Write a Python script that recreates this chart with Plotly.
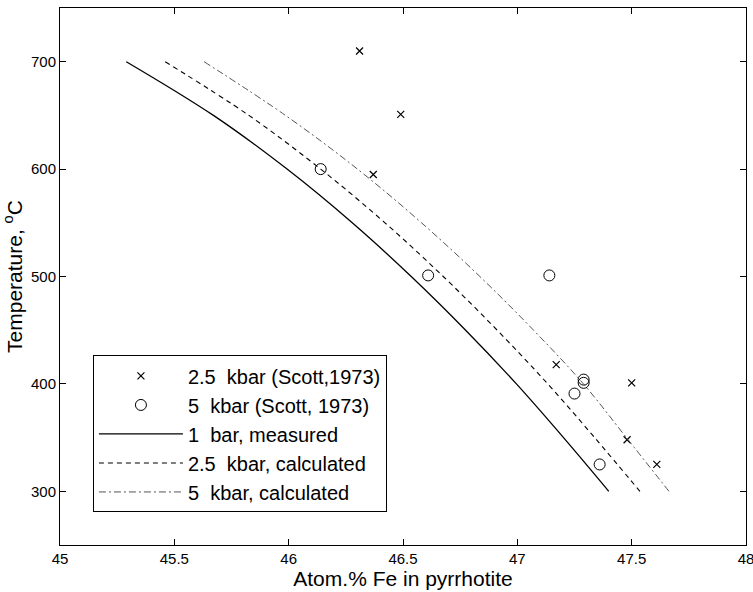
import plotly.graph_objects as go

# Data
scott_25_x = [46.31, 46.49, 46.37, 47.17, 47.50, 47.48, 47.61]
scott_25_t = [710, 651, 595, 418, 401, 348, 325]

scott_5_x = [46.14, 46.61, 47.14, 47.29, 47.29, 47.25, 47.36]
scott_5_t = [600, 501, 501, 404, 401, 391, 325]

curve_t = [700, 650, 600, 550, 500, 450, 400, 350, 300]
bar1_x = [45.290, 45.671, 45.993, 46.278, 46.536, 46.774, 46.996, 47.202, 47.400]
kbar25_x = [45.460, 45.826, 46.140, 46.421, 46.676, 46.912, 47.133, 47.338, 47.536]
kbar5_x = [45.630, 45.986, 46.301, 46.581, 46.836, 47.071, 47.289, 47.477, 47.663]

x_ticks = [45, 45.5, 46, 46.5, 47, 47.5, 48]
y_ticks = [300, 400, 500, 600, 700]

FONT = "Arial, Liberation Sans, sans-serif"

fig = go.Figure()
fig.add_trace(go.Scatter(x=scott_25_x, y=scott_25_t, mode="markers",
                         name="2.5  kbar (Scott,1973)",
                         marker=dict(symbol="x-thin", size=7, color="black",
                                     line=dict(width=1.2, color="black"))))
fig.add_trace(go.Scatter(x=scott_5_x, y=scott_5_t, mode="markers",
                         name="5  kbar (Scott, 1973)",
                         marker=dict(symbol="circle-open", size=11, color="black",
                                     line=dict(width=1, color="black"))))
fig.add_trace(go.Scatter(x=bar1_x, y=curve_t, mode="lines", line_shape="spline",
                         name="1  bar, measured",
                         line=dict(color="black", width=1.3, dash="solid")))
fig.add_trace(go.Scatter(x=kbar25_x, y=curve_t, mode="lines", line_shape="spline",
                         name="2.5  kbar, calculated",
                         line=dict(color="black", width=1.1, dash="5px,4px")))
fig.add_trace(go.Scatter(x=kbar5_x, y=curve_t, mode="lines", line_shape="spline",
                         name="5  kbar, calculated",
                         line=dict(color="#555555", width=1, dash="7px,3px,2px,3px")))

axis_common = dict(showline=True, linecolor="black", linewidth=1, mirror="ticks",
                   ticks="inside", ticklen=6, tickcolor="black", showgrid=False,
                   zeroline=False, ticklabeloverflow="allow",
                   tickfont=dict(family=FONT, size=15, color="black"))

fig.update_xaxes(range=[45, 48], tickvals=x_ticks, ticktext=[str(v) for v in x_ticks],
                 automargin=False,
                 title=dict(text="Atom.% Fe in pyrrhotite",
                            font=dict(family=FONT, size=21, color="black"), standoff=4),
                 **axis_common)
fig.update_yaxes(range=[250, 750], tickvals=y_ticks, automargin=True,
                 title=dict(text="Temperature, <sup>o</sup>C",
                            font=dict(family=FONT, size=21, color="black"), standoff=5),
                 **axis_common)

fig.update_layout(
    width=753, height=592,
    margin=dict(l=60, r=7, t=8, b=47),
    plot_bgcolor="white", paper_bgcolor="white",
    font=dict(family=FONT, color="black"),
    legend=dict(x=0.048, y=0.353, xanchor="left", yanchor="top",
                bordercolor="black", borderwidth=1, bgcolor="white",
                font=dict(family=FONT, size=20, color="black"),
                itemwidth=84, tracegroupgap=0),
)

fig.write_html("out.html", config={"displayModeBar": False},
               post_script="document.body.style.margin='0';document.body.style.overflow='hidden';")
